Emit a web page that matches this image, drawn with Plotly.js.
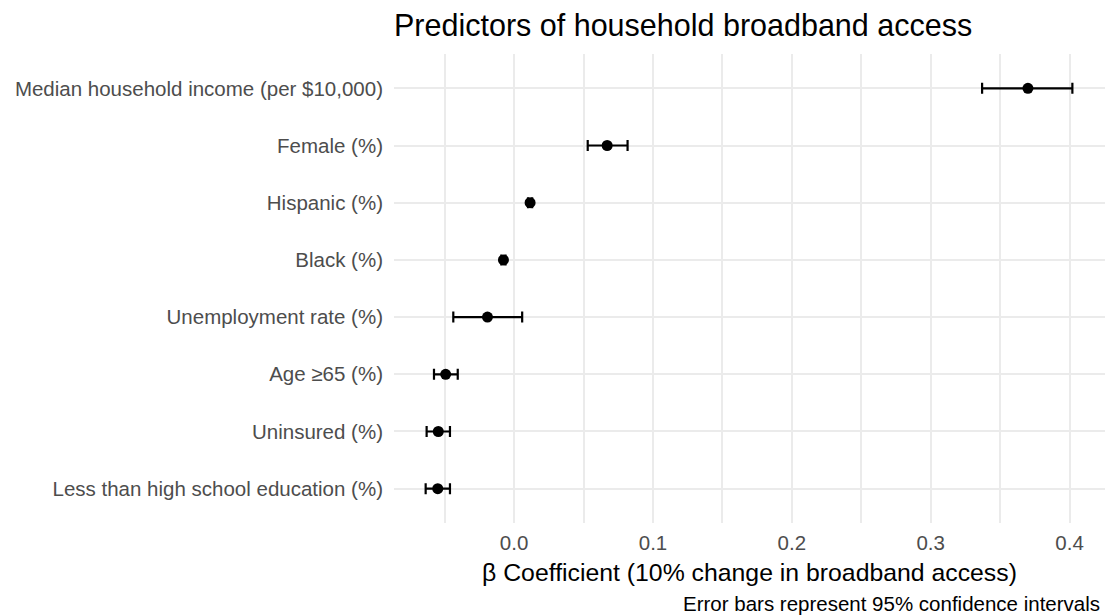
<!DOCTYPE html>
<html>
<head>
<meta charset="utf-8">
<script src="https://cdn.plot.ly/plotly-3.0.1.min.js"></script>
<style>html,body{margin:0;padding:0;background:#fff;}#chart{width:1107px;height:616px;}</style>
</head>
<body>
<div id="chart"></div>
<script>
const categories = [
  "Median household income (per $10,000)",
  "Female (%)",
  "Hispanic (%)",
  "Black (%)",
  "Unemployment rate (%)",
  "Age ≥65 (%)",
  "Uninsured (%)",
  "Less than high school education (%)"
];
const estimates = [0.370, 0.067, 0.0115, -0.0077, -0.0192, -0.0493, -0.0546, -0.0550];
const ciLower   = [0.337, 0.053, 0.0100, -0.0092, -0.0438, -0.0577, -0.0630, -0.0637];
const ciUpper   = [0.402, 0.0817, 0.0130, -0.0062, 0.0058, -0.0406, -0.0462, -0.0462];
const xTicks = [0.0, 0.1, 0.2, 0.3, 0.4];
const xTickLabels = ["0.0", "0.1", "0.2", "0.3", "0.4"];

const errPlus = estimates.map((v, i) => ciUpper[i] - v);
const errMinus = estimates.map((v, i) => v - ciLower[i]);

const FONT = "Liberation Sans, Arial, Helvetica, sans-serif";

const trace = {
  type: "scatter",
  mode: "markers",
  x: estimates,
  y: categories,
  marker: {color: "#000000", size: 11},
  error_x: {
    type: "data",
    symmetric: false,
    array: errPlus,
    arrayminus: errMinus,
    color: "#000000",
    thickness: 2.2,
    width: 5.5
  },
  hoverinfo: "x+y",
  showlegend: false
};

const plotTop = 54, plotBottom = 523;
const plotH = plotBottom - plotTop;

const layout = {
  width: 1107,
  height: 616,
  margin: {l: 394, r: 2, t: plotTop, b: 616 - plotBottom},
  paper_bgcolor: "#ffffff",
  plot_bgcolor: "#ffffff",
  font: {family: FONT, color: "#4d4d4d"},
  title: {
    text: "Predictors of household broadband access",
    font: {family: FONT, size: 30.5, color: "#000000"},
    x: 0, xref: "paper", xanchor: "left",
    y: 1 - 25/616, yref: "container", yanchor: "middle"
  },
  xaxis: {
    range: [-0.0865, 0.4255],
    tickvals: xTicks,
    ticktext: xTickLabels,
    showgrid: true,
    gridcolor: "#ebebeb",
    gridwidth: 2,
    zeroline: false,
    showline: false,
    ticks: "",
    ticklabelstandoff: 5,
    tickfont: {family: FONT, size: 20.5, color: "#4d4d4d"},
    minor: {dtick: 0.05, tick0: 0, showgrid: true, gridcolor: "#ebebeb", gridwidth: 1.5, ticks: ""},
    title: {
      text: "β Coefficient (10% change in broadband access)",
      font: {family: FONT, size: 24.8, color: "#000000"},
      standoff: 11
    },
    fixedrange: true
  },
  yaxis: {
    type: "category",
    categoryorder: "array",
    categoryarray: categories,
    range: [7.6, -0.6],
    showgrid: true,
    gridcolor: "#ebebeb",
    gridwidth: 2,
    zeroline: false,
    showline: false,
    ticks: "",
    ticklabelstandoff: 10,
    tickfont: {family: FONT, size: 20.5, color: "#4d4d4d"},
    fixedrange: true
  },
  annotations: [{
    text: "Error bars represent 95% confidence intervals",
    xref: "paper", yref: "paper",
    x: (1101 - 394) / (1107 - 2 - 394), y: -(616 - plotBottom) / plotH,
    xanchor: "right", yanchor: "bottom",
    borderpad: 0,
    showarrow: false,
    font: {family: FONT, size: 20.5, color: "#000000"}
  }]
};

Plotly.newPlot("chart", [trace], layout, {displayModeBar: false, staticPlot: false});
</script>
</body>
</html>
